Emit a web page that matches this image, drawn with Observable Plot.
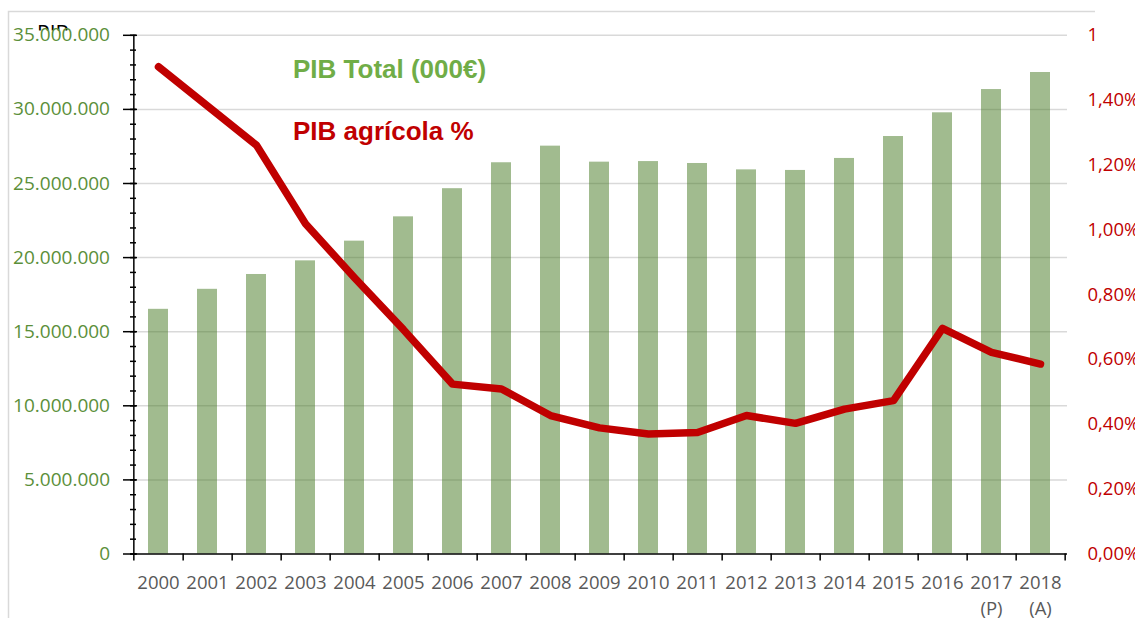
<!DOCTYPE html>
<html><head><meta charset="utf-8">
<script src="https://cdn.jsdelivr.net/npm/d3@7"></script>
<script src="https://cdn.jsdelivr.net/npm/@observablehq/plot@0.6"></script>
<style>
body{margin:0;background:#fff;}
#chart{position:relative;width:1135px;height:618px;overflow:hidden;}
#chart svg{display:block;}
</style>
</head><body><div id="chart"></div>
<script>
const years = ["2000","2001","2002","2003","2004","2005","2006","2007","2008","2009","2010","2011","2012","2013","2014","2015","2016","2017","2018"];
const yearLabels = ["2000","2001","2002","2003","2004","2005","2006","2007","2008","2009","2010","2011","2012","2013","2014","2015","2016","2017\n(P)","2018\n(A)"];
// PIB Total (000€)
const pibTotal = [16510000,17860000,18860000,19780000,21110000,22750000,24650000,26400000,27520000,26440000,26480000,26350000,25920000,25880000,26690000,28170000,29770000,31340000,32490000];
// PIB agrícola (%)
const pibAgricola = [1.503,1.382,1.261,1.019,0.852,0.692,0.524,0.509,0.427,0.389,0.370,0.375,0.427,0.403,0.447,0.473,0.696,0.622,0.586];
const leftTicks = [0,5000000,10000000,15000000,20000000,25000000,30000000,35000000];
const leftMinor = d3.range(0, 35000001, 1000000);
const rightTickValues = [0,0.2,0.4,0.6,0.8,1.0,1.2,1.4,1.6];
const rightTickLabels = ["0,00%","0,20%","0,40%","0,60%","0,80%","1,00%","1,20%","1,40%","1"];
const legendTotal = "PIB Total (000€)";
const legendAgr = "PIB agrícola %";

const W = 1135, H = 618, mL = 130, mR = 68, mT = 34.8, mB = 64.5;
const plotW = W - mL - mR, plotH = H - mT - mB;
const step = plotW / years.length;
const k = 35000000 / 1.6;
const rightTicks = rightTickValues.map(v => v * k);

const data = years.map((y, i) => ({year: y, label: yearLabels[i], total: pibTotal[i], agr: pibAgricola[i] * k}));
const fmt = d3.formatLocale({decimal: ",", thousands: ".", grouping: [3], currency: ["", "€"]}).format(",");

const axisStroke = {stroke: "black", strokeWidth: 1.5};

const chart = Plot.plot({
  width: W, height: H,
  marginLeft: mL, marginRight: mR, marginTop: mT, marginBottom: mB,
  x: {type: "band", domain: years, paddingInner: 0.6, paddingOuter: 0.3, axis: null},
  y: {domain: [0, 35000000], axis: null},
  style: {fontFamily: "'Open Sans', sans-serif", fontSize: "18.5px", background: "white", overflow: "visible"},
  marks: [
    Plot.ruleY(leftTicks.slice(1), {stroke: "#d9d9d9", strokeWidth: 1.5}),
    Plot.barY(data, {x: "year", y: "total", fill: "#44781f", fillOpacity: 0.5}),
    Plot.line(data, {x: "year", y: "agr", stroke: "#c00000", strokeWidth: 7.5, strokeLinecap: "round", strokeLinejoin: "round"}),
    Plot.ruleY([0], axisStroke),
    Plot.ruleX([years[0]], {dx: -step / 2, y1: 0, y2: 35000000, ...axisStroke}),
    Plot.tickY(leftMinor, {insetRight: plotW - 6, ...axisStroke}),
    Plot.tickY(leftTicks, {insetLeft: -7, insetRight: plotW - 7, ...axisStroke}),
    Plot.tickX(years, {x: d => d, dx: step / 2, insetTop: plotH, insetBottom: -7, ...axisStroke}),
    Plot.tickX([years[0]], {x: d => d, dx: -step / 2, insetTop: plotH, insetBottom: -7, ...axisStroke}),
    Plot.axisY(leftTicks, {anchor: "left", tickSize: 0, tickPadding: 20.5, tickFormat: fmt, color: "#5b8f3a", fontSize: 19}),
    Plot.axisY(rightTicks, {anchor: "right", tickSize: 0, tickPadding: 20, tickFormat: d => rightTickLabels[rightTicks.indexOf(d)], color: "#c00000", fontSize: 18.5}),
    Plot.text(data, {x: "year", text: "label", frameAnchor: "bottom", lineAnchor: "top", dy: 16.4, lineHeight: 1.42, fill: "#595959", fontSize: 18.5})
  ]
});

document.getElementById("chart").appendChild(chart);

const svg = d3.select(chart);
// outer chart border (left and top edges visible)
svg.insert("path", ":first-child")
  .attr("d", "M8.5,618V11.5H1095")
  .attr("fill", "none").attr("stroke", "#d9d9d9").attr("stroke-width", 1.5);
// clipped title remnant
const defs = svg.append("defs");
defs.append("clipPath").attr("id", "titleclip").append("rect").attr("x", 0).attr("y", 0).attr("width", 200).attr("height", 30.5);
svg.insert("text", ":first-child")
  .attr("x", 37).attr("y", 41).attr("clip-path", "url(#titleclip)").attr("text-anchor", "start")
  .attr("font-size", 21).attr("fill", "black").attr("font-family", "'Open Sans', sans-serif")
  .text("PIB");
// legend labels
const lg = svg.append("g").attr("font-family", "'Liberation Sans', Arial, sans-serif").attr("font-weight", "bold").attr("font-size", 26).attr("text-anchor", "start");
lg.append("text").attr("x", 293).attr("y", 78).attr("fill", "#70ad47").text(legendTotal);
lg.append("text").attr("x", 293).attr("y", 139.5).attr("fill", "#c00000").text(legendAgr);
</script>
</body></html>
